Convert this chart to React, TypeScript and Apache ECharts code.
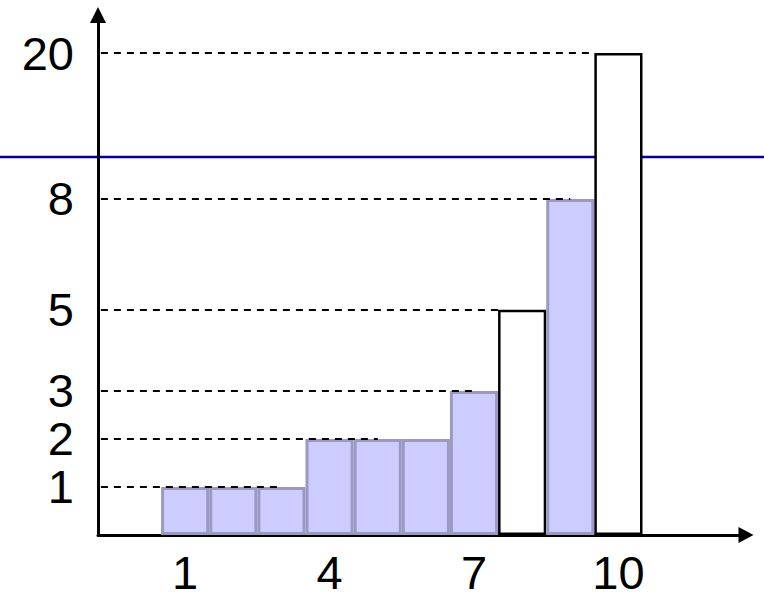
import React, { useEffect, useRef } from "react";
import * as echarts from "echarts";

// ---- data ----
const positions = [1, 2, 3, 4, 5, 6, 7, 8, 9, 10];
const barValues = [1, 1, 1, 2, 2, 2, 3, 5, 8, 20];
const highlighted = [true, true, true, true, true, true, true, false, true, false];
const yTickLabels = [1, 2, 3, 5, 8, 20];
const xTickLabels = [1, 4, 7, 10];
const dashLevels = [1, 2, 3, 5, 8, 20];
const dashEnds = [3, 5, 7, 7.5, 9, 9.5];

// broken (piecewise) y scale: value -> display units
const scaleValues = [0, 3, 5, 8, 20];
const scaleDisplay = [0, 3, 4.69, 7, 10.04];
const breakDisplay = 7.875;

function toDisplay(v: number): number {
  for (let i = 1; i < scaleValues.length; i++) {
    if (v <= scaleValues[i]) {
      const a = scaleValues[i - 1], b = scaleValues[i];
      const t = (v - a) / (b - a);
      return scaleDisplay[i - 1] + t * (scaleDisplay[i] - scaleDisplay[i - 1]);
    }
  }
  return scaleDisplay[scaleDisplay.length - 1];
}

const X_MIN = -0.81;
const X_MAX = 12.65;
const Y_MAX = 10.833;
const FONT = "'Liberation Sans', Arial, sans-serif";

export default function App() {
  const ref = useRef<HTMLDivElement>(null);
  useEffect(() => {
    if (!ref.current) return;
    const chart = echarts.init(ref.current, null, { renderer: "svg" });
    const barData = positions.map((p, i) => ({
      value: [p, toDisplay(barValues[i])],
      itemStyle: highlighted[i]
        ? { color: "#CCCCFF", borderColor: "#9999C2", borderWidth: 3 }
        : { color: "#FFFFFF", borderColor: "#000000", borderWidth: 2.5 },
    }));
    chart.setOption({
      animation: false,
      backgroundColor: "#ffffff",
      grid: { left: 98, right: 18, top: 15, bottom: 59, outerBoundsMode: "none", containLabel: false },
      xAxis: {
        type: "value",
        min: X_MIN,
        max: X_MAX,
        splitLine: { show: false },
        axisTick: { show: false },
        axisLine: {
          show: true,
          onZero: false,
          symbol: ["none", "triangle"],
          symbolSize: [16, 15],
          lineStyle: { color: "#000", width: 3 },
        },
        axisLabel: {
          customValues: xTickLabels,
          formatter: (v: number) => String(Math.round(v)),
          fontSize: 47,
          fontFamily: FONT,
          color: "#000",
          margin: 14,
        },
      },
      yAxis: {
        type: "value",
        min: 0,
        max: Y_MAX,
        splitLine: { show: false },
        axisTick: { show: false },
        axisLine: {
          show: true,
          onZero: false,
          symbol: ["none", "triangle"],
          symbolSize: [16, 16],
          lineStyle: { color: "#000", width: 3 },
        },
        axisLabel: {
          customValues: yTickLabels.map(toDisplay),
          formatter: (v: number) => {
            let best = 0;
            yTickLabels.forEach((t, i) => {
              if (Math.abs(toDisplay(t) - v) < Math.abs(toDisplay(yTickLabels[best]) - v)) best = i;
            });
            return String(yTickLabels[best]);
          },
          fontSize: 47,
          fontFamily: FONT,
          color: "#000",
          margin: 24,
          padding: [6, 0, 0, 0],
        },
      },
      series: [
        {
          type: "bar",
          data: barData,
          barWidth: 48.15,
          silent: true,
          markLine: {
            silent: true,
            symbol: ["none", "none"],
            label: { show: false },
            lineStyle: { type: [7, 6], color: "#000", width: 2 },
            data: dashLevels.map((lv, i) => [
              { coord: [X_MIN + 0.06, toDisplay(lv)] },
              { coord: [dashEnds[i], toDisplay(lv)] },
            ]),
          },
        },
      ],
    });
    const py = chart.convertToPixel({ yAxisIndex: 0 }, breakDisplay) as number;
    chart.setOption({
      graphic: [
        {
          type: "line",
          z: -1,
          silent: true,
          shape: { x1: 0, y1: py, x2: 764, y2: py },
          style: { stroke: "#000099", lineWidth: 2.5 },
        },
      ],
    });
    return () => chart.dispose();
  }, []);
  return (
    <div
      ref={ref}
      style={{ position: "fixed", left: 0, top: 0, width: 764, height: 594 }}
    />
  );
}
